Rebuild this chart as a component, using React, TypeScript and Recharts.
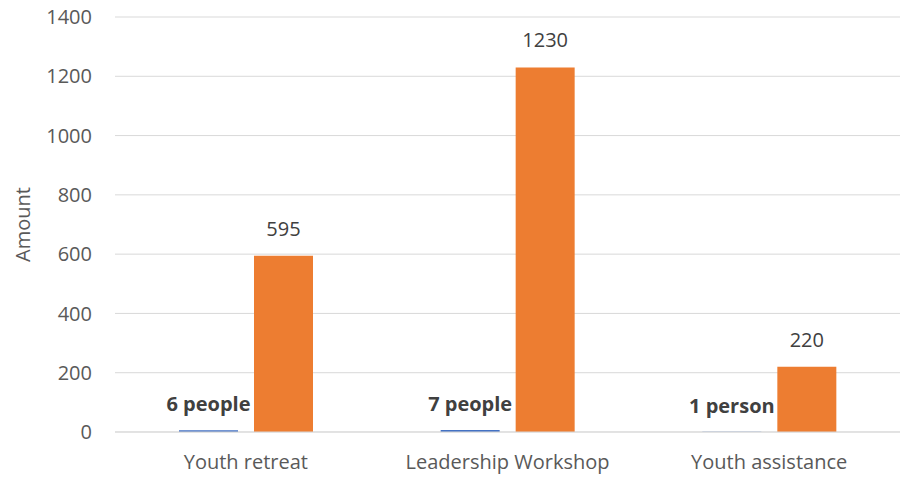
import { BarChart, Bar, XAxis, YAxis, CartesianGrid, LabelList } from "recharts";

const programs = ["Youth retreat", "Leadership Workshop", "Youth assistance"];
const people = [6, 7, 1];
const peopleLabels = ["6 people", "7 people", "1 person"];
const amounts = [595, 1230, 220];
const yTicks = [0, 200, 400, 600, 800, 1000, 1200, 1400];

const data = programs.map((name, i) => ({
  name,
  people: people[i],
  amount: amounts[i],
  label: peopleLabels[i],
}));

const font = "'Open Sans', sans-serif";
const axisText = { fill: "#595959", fontSize: 20, fontFamily: font };

// plain text above the bar, no wrapping
const TopLabel = (props: any) => {
  const { x, y, width, value, offset, bold } = props;
  return (
    <text
      x={x + width / 2}
      y={y - offset}
      textAnchor="middle"
      fill="#404040"
      fontSize={20}
      fontFamily={font}
      fontWeight={bold ? 700 : 400}
    >
      {value}
    </text>
  );
};

const AxisTitle = (props: any) => {
  const { viewBox } = props;
  const cy = viewBox.y + viewBox.height / 2;
  return (
    <text
      x={22}
      y={cy}
      transform={`rotate(-90 22 ${cy})`}
      textAnchor="middle"
      dominantBaseline="central"
      fill="#595959"
      fontSize={20}
      fontFamily={font}
    >
      Amount
    </text>
  );
};

export default function App() {
  return (
    <div style={{ position: "absolute", left: 0, top: 0, background: "#fff" }}>
      <BarChart
        width={905}
        height={478}
        data={data}
        margin={{ top: 17, right: 5, left: 0, bottom: 0 }}
        barSize={59}
        barGap={16}
      >
        <CartesianGrid vertical={false} stroke="#d9d9d9" />
        <XAxis
          dataKey="name"
          height={46}
          axisLine={{ stroke: "#d9d9d9" }}
          tickLine={false}
          tickSize={0}
          tickMargin={23}
          tick={axisText}
        />
        <YAxis
          width={115}
          domain={[0, 1400]}
          ticks={yTicks}
          axisLine={false}
          tickLine={false}
          tickSize={0}
          tickMargin={23}
          tick={axisText}
          label={<AxisTitle />}
        />
        <Bar dataKey="people" fill="#4472C4" isAnimationActive={false}>
          <LabelList
            dataKey="label"
            content={(p: any) => <TopLabel {...p} offset={19} bold />}
          />
        </Bar>
        <Bar dataKey="amount" fill="#ED7D31" isAnimationActive={false}>
          <LabelList
            dataKey="amount"
            content={(p: any) => <TopLabel {...p} offset={20} />}
          />
        </Bar>
      </BarChart>
    </div>
  );
}
